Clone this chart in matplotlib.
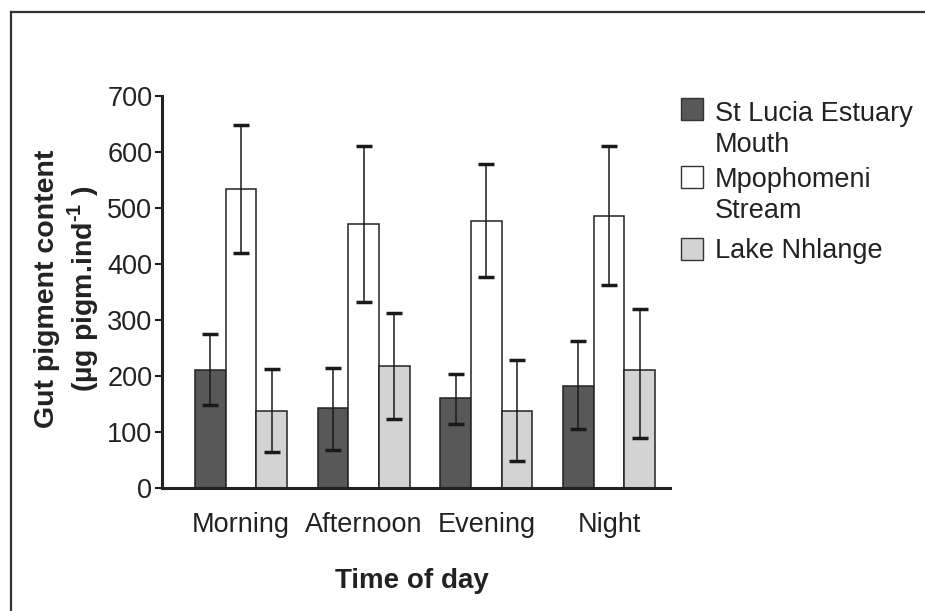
import matplotlib
matplotlib.use("Agg")
import matplotlib.pyplot as plt
import numpy as np
from matplotlib.patches import Rectangle
from matplotlib.lines import Line2D

plt.rcParams['font.family'] = ['Liberation Sans', 'DejaVu Sans']
plt.rcParams['mathtext.fontset'] = 'custom'
plt.rcParams['mathtext.rm'] = 'Liberation Sans:bold'
plt.rcParams['mathtext.bf'] = 'Liberation Sans:bold'

categories = ['Morning', 'Afternoon', 'Evening', 'Night']
series_names = ['St Lucia Estuary\nMouth', 'Mpophomeni\nStream', 'Lake Nhlange']

stlucia_mean = [211, 142, 160, 183]
stlucia_low = [148, 68, 115, 105]
stlucia_high = [275, 215, 204, 262]

mpophomeni_mean = [534, 471, 477, 486]
mpophomeni_low = [419, 333, 377, 362]
mpophomeni_high = [649, 611, 578, 610]

nhlange_mean = [138, 218, 138, 210]
nhlange_low = [65, 124, 48, 90]
nhlange_high = [212, 312, 229, 320]

yticks = [0, 100, 200, 300, 400, 500, 600, 700]

colors = ['#585858', '#ffffff', '#d3d3d3']
edge = '#222222'

W, H = 925, 611
fig = plt.figure(figsize=(W / 100, H / 100), dpi=100)
ax = fig.add_axes([162 / W, 1 - 488 / H, (670 - 162) / W, (488 - 96) / H])

x = np.arange(len(categories))
bw = 0.25
data = [(stlucia_mean, stlucia_low, stlucia_high),
        (mpophomeni_mean, mpophomeni_low, mpophomeni_high),
        (nhlange_mean, nhlange_low, nhlange_high)]
offsets = [-bw, 0, bw]
for (m, lo, hi), off, c in zip(data, offsets, colors):
    m = np.array(m); lo = np.array(lo); hi = np.array(hi)
    ax.bar(x + off, m, width=bw, color=c, edgecolor=edge, linewidth=1.1, zorder=2)
    ax.errorbar(x + off, m, yerr=[m - lo, hi - m], fmt='none', ecolor='#1a1a1a',
                elinewidth=1.1, capsize=5.8, capthick=2.5, zorder=3)

ax.set_xlim(-0.644, 3.497)
ax.set_ylim(0, 700)
ax.set_yticks(yticks)
ax.set_yticklabels([str(v) for v in yticks], fontsize=19.5, color='#222222')
ax.set_xticks(x)
ax.set_xticklabels(categories, fontsize=19.5, color='#222222')
ax.tick_params(axis='x', length=0, pad=17)
ax.tick_params(axis='y', length=5, width=1.5, pad=2, color='#222222')
for s in ['top', 'right']:
    ax.spines[s].set_visible(False)
for s in ['left', 'bottom']:
    ax.spines[s].set_linewidth(2.2)
    ax.spines[s].set_color('#222222')

# axis labels
fig.text(47 / W, 1 - 289 / H, 'Gut pigment content', rotation=90, ha='center', va='center',
         fontsize=20.5, fontweight='bold', color='#222222')
fig.text(83 / W, 1 - 289 / H, r'(µg pigm.ind$^{\text{-1}}$ )', rotation=90, ha='center', va='center',
         fontsize=20.5, fontweight='bold', color='#222222')
fig.text(412 / W, 1 - 581 / H, 'Time of day', ha='center', va='center',
         fontsize=20, fontweight='bold', color='#222222')

# legend
leg_items = [
    (colors[0], 98, ['St Lucia Estuary', 'Mouth'], [121, 152]),
    (colors[1], 166, ['Mpophomeni', 'Stream'], [187, 218]),
    (colors[2], 238, ['Lake Nhlange'], [258]),
]
for c, ytop, lines, baselines in leg_items:
    fig.add_artist(Rectangle((681 / W, 1 - (ytop + 22) / H), 22 / W, 22 / H,
                             transform=fig.transFigure, facecolor=c, edgecolor='#333333', linewidth=1.0))
    for t, b in zip(lines, baselines):
        fig.text(715 / W, 1 - b / H, t, ha='left', va='baseline', fontsize=19.5, color='#222222')

# frame lines (top and left)
fig.add_artist(Line2D([11 / W, 11 / W], [0, 1 - 11.5 / H], transform=fig.transFigure,
                      color='#333333', linewidth=1.6))
fig.add_artist(Line2D([11 / W, 1], [1 - 11.5 / H, 1 - 11.5 / H], transform=fig.transFigure,
                      color='#333333', linewidth=1.6))

fig.savefig('out.png', dpi=100)
